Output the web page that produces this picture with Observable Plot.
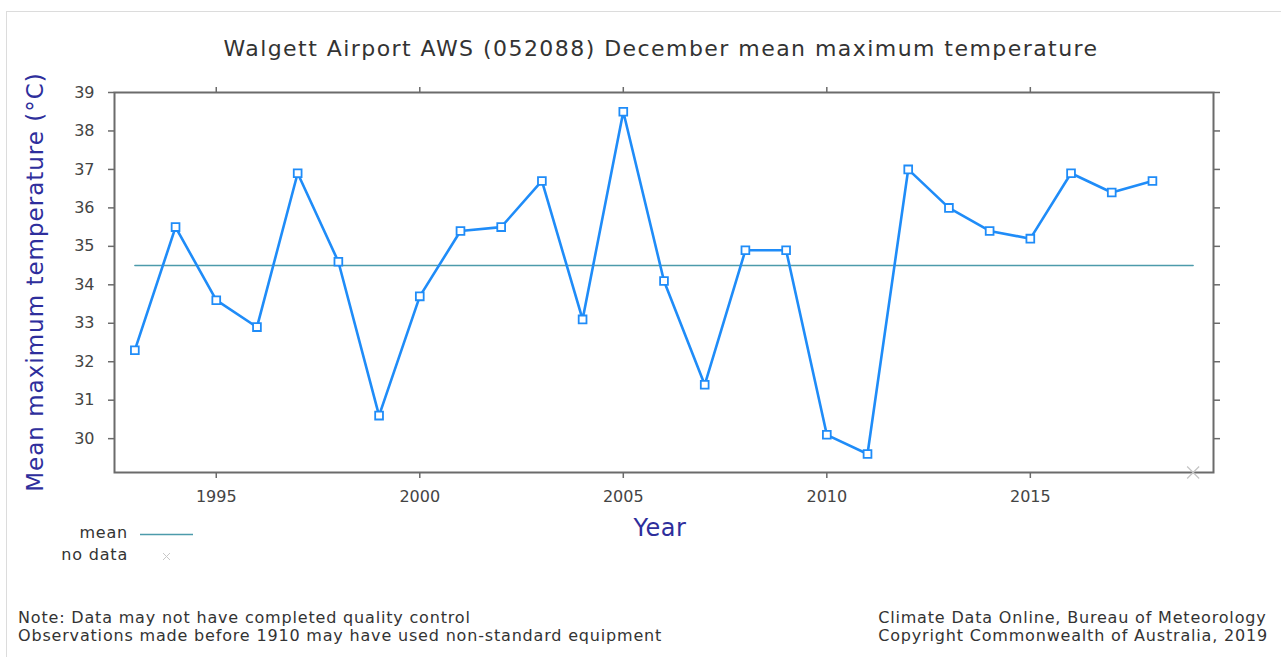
<!DOCTYPE html>
<html>
<head>
<meta charset="utf-8">
<script src="https://cdn.jsdelivr.net/npm/d3@7"></script>
<script src="https://cdn.jsdelivr.net/npm/@observablehq/plot@0.6"></script>
<style>
  html, body { margin: 0; padding: 0; background: #fff; }
  body { width: 1281px; height: 657px; overflow: hidden; font-family: "DejaVu Sans", Verdana, sans-serif; }
  #wrap { position: relative; width: 1281px; height: 657px; }
  #border { position: absolute; left: 6px; top: 11px; width: 1280px; height: 660px; border: 1px solid #dcdcdc; box-sizing: border-box; }
  #chart { position: absolute; left: 0; top: 0; }
  .t { position: absolute; white-space: nowrap; }
  #title { left: 661px; top: 48px; transform: translate(-50%, -50%); font-size: 22px; letter-spacing: 1.45px; color: #333; }
  #ylab { left: 35px; top: 282px; transform: translate(-50%, -50%) rotate(-90deg); font-size: 23px; letter-spacing: 1px; color: #2e2e9c; }
  #xlab { left: 660px; top: 528px; transform: translate(-50%, -50%); font-size: 24px; letter-spacing: 0.5px; color: #2e2e9c; }
  .leg { font-size: 16px; letter-spacing: 0.8px; color: #333; right: 1153px; text-align: right; }
  .foot { font-size: 16px; letter-spacing: 0.82px; color: #333; line-height: 18px; }
</style>
</head>
<body>
<div id="wrap">
  <div id="border"></div>
  <div id="chart"></div>
  <div class="t" id="title">Walgett Airport AWS (052088) December mean maximum temperature</div>
  <div class="t" id="ylab">Mean maximum temperature (°C)</div>
  <div class="t" id="xlab">Year</div>
  <div class="t leg" style="top:523px">mean</div>
  <div class="t leg" style="top:545px">no data</div>
  <svg class="t" style="left:136px; top:525px" width="62" height="40">
    <line x1="4" x2="57" y1="9.5" y2="9.5" stroke="#4c9bab" stroke-width="1.5"/>
    <path d="M27,28 l7,7 M34,28 l-7,7" stroke="#c8c8c8" stroke-width="1"/>
  </svg>
  <div class="t foot" style="left:18px; top:609px">Note: Data may not have completed quality control<br>Observations made before 1910 may have used non-standard equipment</div>
  <div class="t foot" style="right:13px; top:609px">Climate Data Online, Bureau of Meteorology<br>Copyright Commonwealth of Australia, 2019</div>
</div>
<script>
// Data
const years = [1993,1994,1995,1996,1997,1998,1999,2000,2001,2002,2003,2004,2005,2006,2007,2008,2009,2010,2011,2012,2013,2014,2015,2016,2017,2018];
const temps = [32.3,35.5,33.6,32.9,36.9,34.6,30.6,33.7,35.4,35.5,36.7,33.1,38.5,34.1,31.4,34.9,34.9,30.1,29.6,37.0,36.0,35.4,35.2,36.9,36.4,36.7];
const meanTemp = 34.5;
const noDataYears = [2019];
const xTicks = [1995, 2000, 2005, 2010, 2015];
const yTicks = [30, 31, 32, 33, 34, 35, 36, 37, 38, 39];
const xDomain = [1992.5, 2019.5];
const yDomain = [29.12, 39];

const series = years.map((y, i) => ({year: y, temp: temps[i]}));
const meanRows = [{year: years[0], temp: meanTemp}, {year: noDataYears[0], temp: meanTemp}];
const noDataRows = noDataYears.map(y => ({year: y, temp: yDomain[0]}));

const blue = "#1f8cf8";
const axisColor = "#6b6b6b";

const chart = Plot.plot({
  width: 1281,
  height: 657,
  marginLeft: 114,
  marginRight: 68,
  marginTop: 92,
  marginBottom: 185,
  style: {fontFamily: "DejaVu Sans, Verdana, sans-serif", fontSize: "16px", color: "#444", background: "transparent"},
  x: {domain: xDomain},
  y: {domain: yDomain},
  marks: [
    Plot.axisX({anchor: "bottom", ticks: xTicks, tickFormat: d => String(d), tickSize: 6, tickPadding: 12, label: null, stroke: axisColor, strokeWidth: 1.5, fill: "#444", fontSize: 16, letterSpacing: 1}),
    Plot.axisX({anchor: "top", ticks: xTicks, tickFormat: () => "", tickSize: 6, label: null, stroke: axisColor, strokeWidth: 1.5}),
    Plot.axisY({anchor: "left", ticks: yTicks, tickSize: 6, tickPadding: 14, label: null, stroke: axisColor, strokeWidth: 1.5, fill: "#444", fontSize: 16, letterSpacing: 0.5}),
    Plot.axisY({anchor: "right", ticks: yTicks, tickFormat: () => "", tickSize: 6, label: null, stroke: axisColor, strokeWidth: 1.5}),
    Plot.frame({stroke: axisColor, strokeWidth: 2}),
    Plot.line(meanRows, {x: "year", y: "temp", stroke: "#4c9bab", strokeWidth: 1.5}),
    Plot.line(series, {x: "year", y: "temp", stroke: blue, strokeWidth: 2.6}),
    Plot.dot(series, {x: "year", y: "temp", symbol: "square", r: 4.4, fill: "white", stroke: blue, strokeWidth: 1.8}),
    Plot.dot(noDataRows, {x: "year", y: "temp", symbol: "times", r: 5.5, stroke: "#c4c4c4", strokeWidth: 1.2})
  ]
});
document.getElementById("chart").appendChild(chart);
</script>
</body>
</html>
